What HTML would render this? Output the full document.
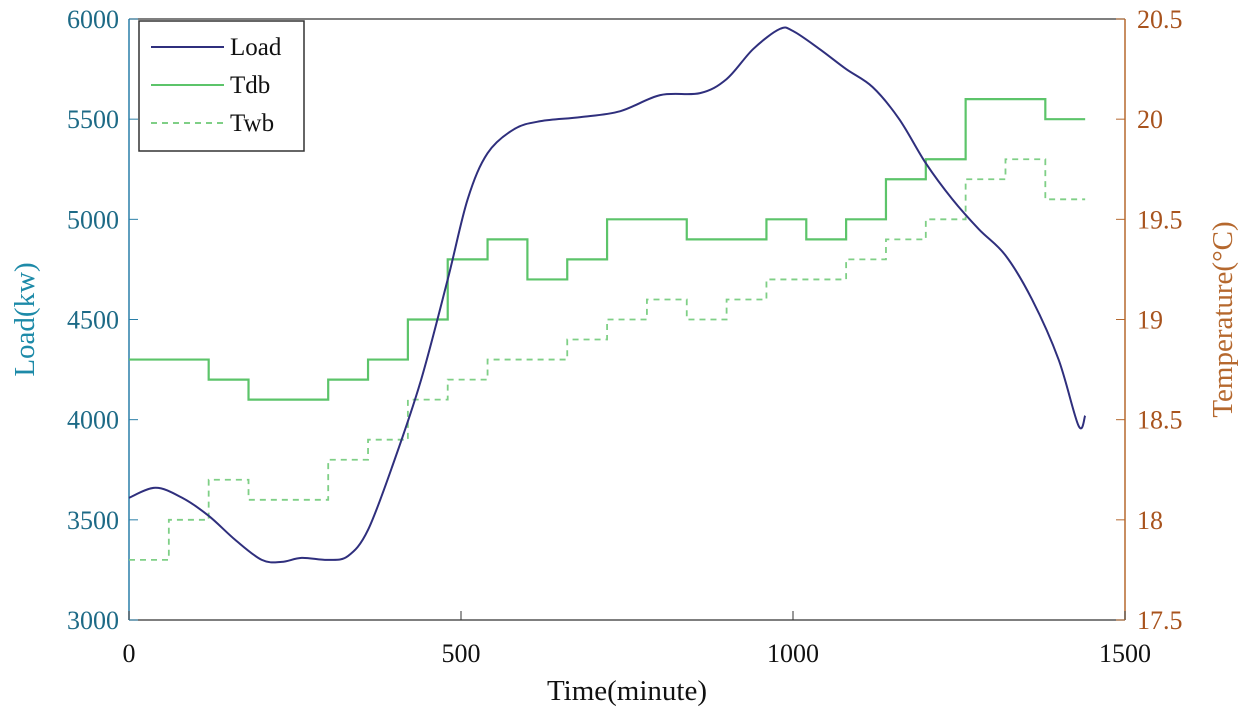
<!DOCTYPE html>
<html><head><meta charset="utf-8"><style>
html,body{margin:0;padding:0;background:#fff;}
svg{display:block;font-family:"Liberation Serif",serif;}
</style></head><body>
<svg id="chart" width="1255" height="717"></svg>
<script>
const loadMinutes=[0,40,80,120,160,200,230,260,300,330,360,400,440,480,510,540,580,620,680,740,800,860,900,940,980,1000,1040,1080,1120,1160,1200,1240,1280,1320,1360,1400,1430,1440];
const loadValues=[3610,3660,3610,3520,3400,3300,3290,3310,3300,3320,3450,3800,4200,4700,5100,5330,5450,5490,5510,5540,5620,5630,5700,5850,5950,5940,5850,5750,5660,5500,5280,5100,4950,4820,4600,4300,3970,4020];
const hourStarts=[0,60,120,180,240,300,360,420,480,540,600,660,720,780,840,900,960,1020,1080,1140,1200,1260,1320,1380,1440];
const tdbValues=[18.8,18.8,18.7,18.6,18.6,18.7,18.8,19.0,19.3,19.4,19.2,19.3,19.5,19.5,19.4,19.4,19.5,19.4,19.5,19.7,19.8,20.1,20.1,20.0];
const twbValues=[17.8,18.0,18.2,18.1,18.1,18.3,18.4,18.6,18.7,18.8,18.8,18.9,19.0,19.1,19.0,19.1,19.2,19.2,19.3,19.4,19.5,19.7,19.8,19.6];
const xTicks=[0,500,1000,1500];
const yLeftTicks=[3000,3500,4000,4500,5000,5500,6000];
const yRightTicks=["17.5","18","18.5","19","19.5","20","20.5"];

const NS="http://www.w3.org/2000/svg";
const svg=document.getElementById('chart');
const L=129,R=1125,T=19,B=620;
const x=v=>L+(v/1500)*(R-L);
const yl=v=>B-(v-3000)/3000*(B-T);
const yr=v=>B-(v-17.5)/3*(B-T);
function mk(tag,attrs,parent){const e=document.createElementNS(NS,tag);for(const k in attrs)e.setAttribute(k,attrs[k]);(parent||svg).appendChild(e);return e;}

// frame
const frame=mk('path',{d:`M${L},${T}H${R}M${L},${B}H${R}`,stroke:'#333',fill:'none','stroke-width':1.3});


const la=mk('line',{x1:L,y1:T,x2:L,y2:B,stroke:'#2a7fa8','stroke-width':1.5});


const ra=mk('line',{x1:R,y1:T,x2:R,y2:B,stroke:'#b5682e','stroke-width':1.5});



xTicks.forEach(t=>{
  const tk=mk('line',{x1:x(t),y1:B,x2:x(t),y2:B-9,stroke:'#333'});
  
  
  const tx=mk('text',{x:x(t),y:B+42,'text-anchor':'middle','font-size':26,fill:'#111'});tx.textContent=t;
  
  
});
yLeftTicks.forEach(t=>{
  const tk=mk('line',{x1:L,y1:yl(t),x2:L+9,y2:yl(t),stroke:'#2a7fa8'});
  
  
  const tx=mk('text',{x:L-10,y:yl(t)+9,'text-anchor':'end','font-size':26,fill:'#1d6a86'});tx.textContent=t;
  
  
});
yRightTicks.forEach(t=>{
  const v=parseFloat(t);
  const tk=mk('line',{x1:R,y1:yr(v),x2:R-9,y2:yr(v),stroke:'#b5682e'});
  
  
  const tx=mk('text',{x:R+12,y:yr(v)+9,'text-anchor':'start','font-size':26,fill:'#a8531d'});tx.textContent=t;
  
  
});
const xt=mk('text',{x:(L+R)/2,y:700,'text-anchor':'middle','font-size':29,fill:'#111'});xt.textContent='Time(minute)';


const ylt=mk('text',{transform:`translate(34,${(T+B)/2}) rotate(-90)`,'text-anchor':'middle','font-size':29,fill:'#1d8aa8'});ylt.textContent='Load(kw)';


const yrt=mk('text',{transform:`translate(1232,${(T+B)/2}) rotate(-90)`,'text-anchor':'middle','font-size':29,fill:'#b5682e'});yrt.textContent='Temperature(°C)';



function stepPath(vals){let d='';vals.forEach((v,i)=>{const a=x(hourStarts[i]),b=x(hourStarts[i+1]),yy=yr(v);d+=(i?'L':'M')+a+','+yy+'L'+b+','+yy;});return d;}
const tdb=mk('path',{d:stepPath(tdbValues),stroke:'#5cc46a',fill:'none','stroke-width':2.2});


const twb=mk('path',{d:stepPath(twbValues),stroke:'#7fcf86',fill:'none','stroke-width':1.8,'stroke-dasharray':'6,5'});



const pts=loadMinutes.map((m,i)=>[x(m),yl(loadValues[i])]);
let d='M'+pts[0][0]+','+pts[0][1];
for(let i=0;i<pts.length-1;i++){
  const p0=pts[Math.max(0,i-1)],p1=pts[i],p2=pts[i+1],p3=pts[Math.min(pts.length-1,i+2)];
  const c1=[p1[0]+(p2[0]-p0[0])/6,p1[1]+(p2[1]-p0[1])/6],c2=[p2[0]-(p3[0]-p1[0])/6,p2[1]-(p3[1]-p1[1])/6];
  d+=`C${c1[0]},${c1[1]} ${c2[0]},${c2[1]} ${p2[0]},${p2[1]}`;
}
const ld=mk('path',{d:d,stroke:'#2f2f7d',fill:'none','stroke-width':2});



// legend
const lg=mk('g',{});


mk('rect',{x:139,y:21,width:165,height:130,fill:'#fff',stroke:'#333','stroke-width':1.5},lg);
const items=[['Load','#2f2f7d',''],['Tdb','#5cc46a',''],['Twb','#7fcf86','6,5']];
items.forEach((it,i)=>{
  const yy=47+i*38;
  const g=mk('g',{},lg);
  
  
  mk('line',{x1:151,y1:yy,x2:224,y2:yy,stroke:it[1],'stroke-width':2,'stroke-dasharray':it[2]||'none'},g);
  const t=mk('text',{x:230,y:yy+8,'font-size':25,fill:'#111'},g);t.textContent=it[0];
});
</script>
</body></html>
